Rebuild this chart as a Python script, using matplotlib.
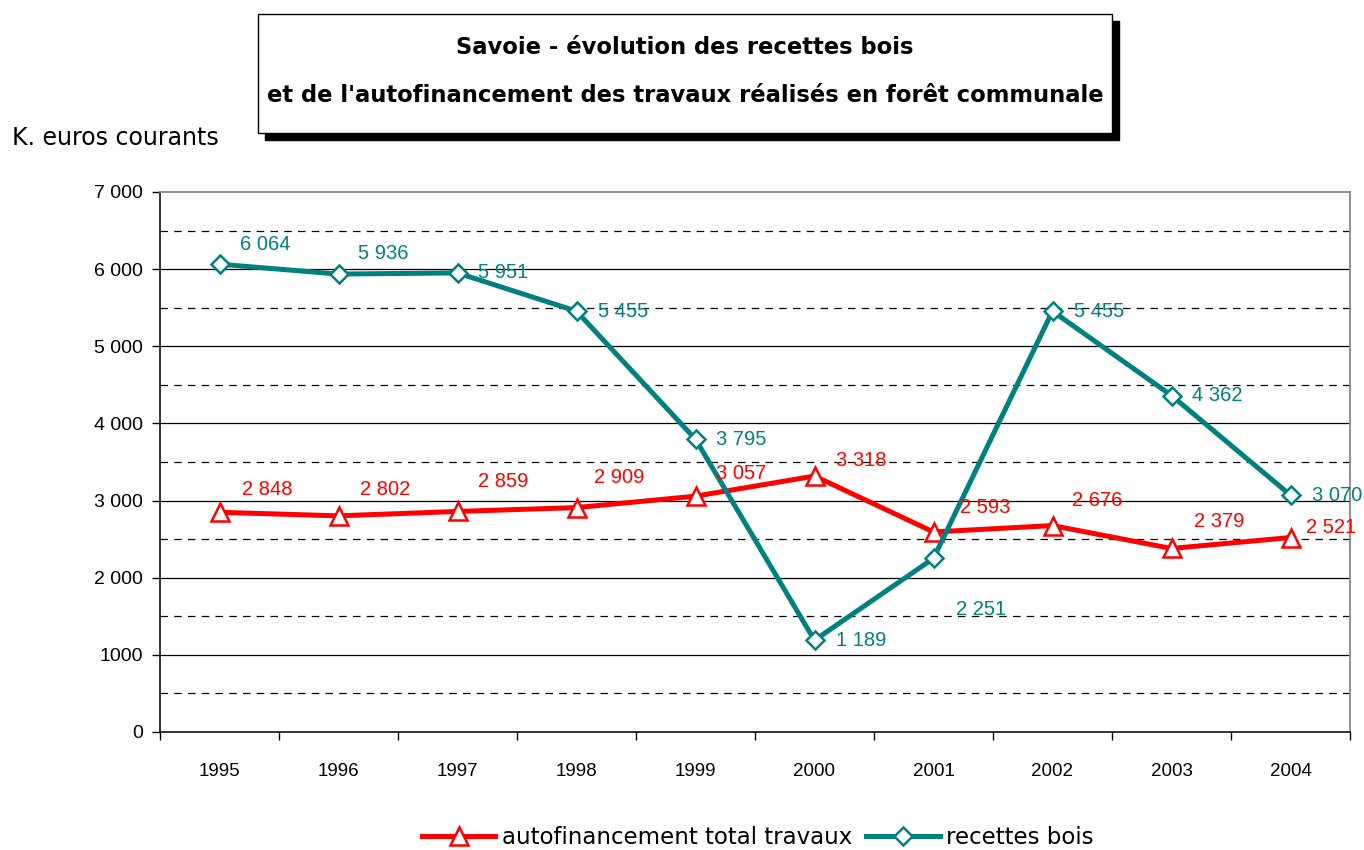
import matplotlib.pyplot as plt
from matplotlib.patches import Rectangle

years = ['1995', '1996', '1997', '1998', '1999', '2000', '2001', '2002', '2003', '2004']
autofinancement = [2848, 2802, 2859, 2909, 3057, 3318, 2593, 2676, 2379, 2521]
recettes_bois = [6064, 5936, 5951, 5455, 3795, 1189, 2251, 5455, 4362, 3070]
y_ticks = [0, 1000, 2000, 3000, 4000, 5000, 6000, 7000]
y_tick_labels = ['0', '1000', '2 000', '3 000', '4 000', '5 000', '6 000', '7 000']

# label offsets in pixels (left edge of text, vertical center)
off_red = [(22, 23), (21, 26), (20, 30), (18, 30), (21, 23), (22, 16), (26, 24), (20, 25), (23, 27), (15, 10)]
off_teal = [(21, 20), (20, 21), (20, 0), (22, 0), (21, 0), (22, 0), (23, -51), (22, 0), (21, 0), (22, 0)]

red = '#FF0000'
teal = '#008080'
plt.rcParams['font.family'] = ['Liberation Sans', 'DejaVu Sans']

fig = plt.figure(figsize=(13.64, 8.5), dpi=100)
ax = fig.add_axes([160 / 1364, 118 / 850, 1190 / 1364, 540 / 850])

x = list(range(len(years)))

# grid
for v in range(500, 7000, 1000):
    ax.axhline(v, color='black', lw=0.9, ls=(0, (6, 5)), zorder=1)
for v in range(1000, 7000, 1000):
    ax.axhline(v, color='black', lw=0.9, zorder=1)

ax.plot(x, autofinancement, color=red, lw=3.6, marker='^', markersize=13,
        markerfacecolor='white', markeredgecolor=red, markeredgewidth=1.8,
        label='autofinancement total travaux', zorder=3)
ax.plot(x, recettes_bois, color=teal, lw=3.6, marker='D', markersize=9.5,
        markerfacecolor='white', markeredgecolor=teal, markeredgewidth=1.8,
        label='recettes bois', zorder=3)

def fmt(v):
    return f"{v:,}".replace(',', ' ')

for i in x:
    ax.annotate(fmt(autofinancement[i]), (i, autofinancement[i]), xytext=off_red[i],
                textcoords='offset pixels', ha='left', va='center', color=red,
                fontsize=14.5, zorder=4, annotation_clip=False)
    ax.annotate(fmt(recettes_bois[i]), (i, recettes_bois[i]), xytext=off_teal[i],
                textcoords='offset pixels', ha='left', va='center', color=teal,
                fontsize=14.5, zorder=4, annotation_clip=False)

ax.set_xlim(-0.5, 9.5)
ax.set_ylim(0, 7000)
ax.set_yticks(y_ticks)
ax.set_yticklabels(y_tick_labels, fontsize=14)
ax.set_xticks(x)
ax.set_xticklabels(years, fontsize=13.5)
ax.tick_params(axis='x', length=0, pad=22)
ax.set_xticks([i - 0.5 for i in range(len(years) + 1)], minor=True)
ax.tick_params(axis='x', which='minor', length=6, width=1, direction='out')
ax.tick_params(axis='y', length=6, width=1, direction='out', pad=6)

ax.spines['left'].set_color('#222222')
ax.spines['bottom'].set_color('#222222')
ax.spines['left'].set_linewidth(1.3)
ax.spines['bottom'].set_linewidth(1.3)
ax.spines['top'].set_color('#888888')
ax.spines['right'].set_color('#888888')
ax.spines['top'].set_linewidth(1.3)
ax.spines['right'].set_linewidth(1.3)

# title box with shadow
fig.patches.append(Rectangle((265 / 1364, 1 - 140 / 850), 854 / 1364, 119 / 850,
                             transform=fig.transFigure, facecolor='black', edgecolor='black', zorder=1))
fig.patches.append(Rectangle((258 / 1364, 1 - 133 / 850), 854 / 1364, 119 / 850,
                             transform=fig.transFigure, facecolor='white', edgecolor='black', lw=1, zorder=2))
fig.text(685 / 1364, 1 - 48 / 850, "Savoie - évolution des recettes bois",
         ha='center', va='center', fontsize=16.3, fontweight='bold', family='DejaVu Sans', zorder=3)
fig.text(685 / 1364, 1 - 95 / 850, "et de l'autofinancement des travaux réalisés en forêt communale",
         ha='center', va='center', fontsize=16.3, fontweight='bold', family='DejaVu Sans', zorder=3)

fig.text(12 / 1364, 1 - 138 / 850, "K. euros courants", ha='left', va='center', fontsize=17,
         family='DejaVu Sans')

fig.legend(loc='center', bbox_to_anchor=(758 / 1364, 1 - 838 / 850), ncol=2, frameon=False,
           handlelength=3.2, columnspacing=0.6, handletextpad=0.3,
           prop={'family': 'DejaVu Sans', 'size': 16.5})

fig.savefig('out.png', dpi=100)
